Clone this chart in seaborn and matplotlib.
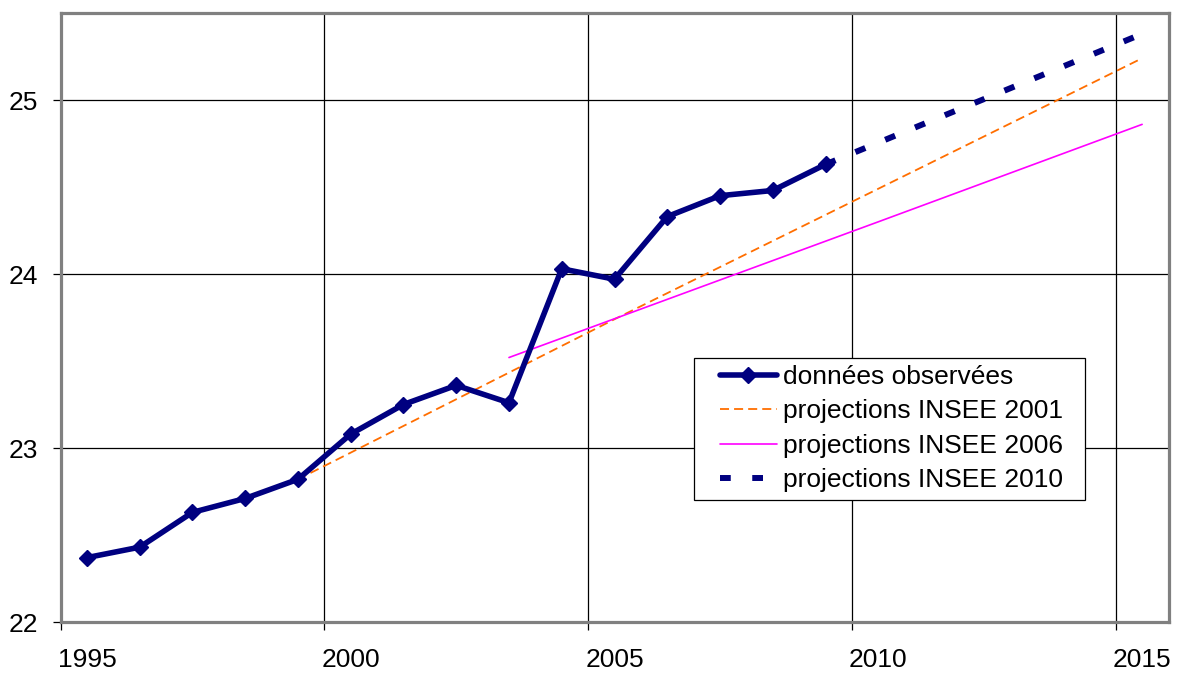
import numpy as np
import pandas as pd
import seaborn as sns
import matplotlib
matplotlib.use("Agg")
import matplotlib.pyplot as plt
from matplotlib.patches import Rectangle

# Observed values
obs_years = [1995, 1996, 1997, 1998, 1999, 2000, 2001, 2002, 2003,
             2004, 2005, 2006, 2007, 2008, 2009]
obs_values = [22.37, 22.43, 22.63, 22.71, 22.82, 23.08, 23.25, 23.36, 23.26,
              24.03, 23.97, 24.33, 24.45, 24.48, 24.63]

# INSEE projections
proj2001_years = [1999, 2005, 2010, 2015]
proj2001_values = [22.82, 23.74, 24.49, 25.24]

proj2006_years = [2003, 2010, 2015]
proj2006_values = [23.52, 24.30, 24.86]

proj2010_years = [2009, 2015]
proj2010_values = [24.63, 25.38]

labels = ["données observées", "projections INSEE 2001",
          "projections INSEE 2006", "projections INSEE 2010"]
year_labels = [1995, 2000, 2005, 2010, 2015]
y_ticks = [22, 23, 24, 25]

NAVY = "#000080"
ORANGE = "#FF6E00"
MAGENTA = "#FF00FF"

sns.set_theme(style="white")
plt.rcParams["font.family"] = ["Liberation Sans", "DejaVu Sans"]

fig = plt.figure(figsize=(11.78, 6.73), dpi=100)
ax = fig.add_axes([0.05136, 0.07578, 0.94058, 0.9049])

sns.lineplot(x=proj2001_years, y=proj2001_values, ax=ax, color=ORANGE,
             linewidth=1.3, linestyle=(0, (5.0, 2.8)), label=labels[1], zorder=3)
sns.lineplot(x=proj2006_years, y=proj2006_values, ax=ax, color=MAGENTA,
             linewidth=1.2, label=labels[2], zorder=3)
sns.lineplot(x=proj2010_years, y=proj2010_values, ax=ax, color=NAVY,
             linewidth=4.3, linestyle=(0, (1.8, 3.6)), label=labels[3], zorder=3)
sns.lineplot(x=obs_years, y=obs_values, ax=ax, color=NAVY, linewidth=4.0,
             marker="D", markersize=7.8, markeredgecolor=NAVY,
             markeredgewidth=1.0, label=labels[0], zorder=4)

ax.set_xlim(1994.5, 2015.5)
ax.set_ylim(22, 25.5)

# Gridlines sit on the category boundaries, labels on the years
ax.set_xticks([y - 0.5 for y in year_labels])
ax.set_xticklabels([""] * len(year_labels))
ax.set_xticks(year_labels, minor=True)
ax.set_xticklabels([str(y) for y in year_labels], minor=True)
ax.set_yticks(y_ticks)
ax.set_yticklabels([str(v) for v in y_ticks])

ax.tick_params(axis="x", which="major", direction="out", length=6, width=0.9,
               color="black", bottom=True)
ax.tick_params(axis="x", which="minor", length=0, pad=19, labelsize=19,
               labelcolor="black", bottom=True)
ax.tick_params(axis="y", which="major", direction="out", length=6, width=0.9,
               color="black", left=True, pad=10, labelsize=19, labelcolor="black")

ax.grid(True, which="major", color="black", linewidth=0.9)
ax.set_axisbelow(True)
for side in ["left", "right", "top", "bottom"]:
    ax.spines[side].set_visible(True)
    ax.spines[side].set_color("#808080")
    ax.spines[side].set_linewidth(2.3)
ax.set_xlabel("")
ax.set_ylabel("")

# Legend
handles, hlabels = ax.get_legend_handles_labels()
order = [hlabels.index(l) for l in labels]
ax.add_patch(Rectangle((0.5717, 0.2003), 0.3529, 0.2332, transform=ax.transAxes,
                       facecolor="white", edgecolor="black", linewidth=0.9,
                       zorder=6))
leg = ax.legend([handles[i] for i in order], [hlabels[i] for i in order],
                loc="upper left", bbox_to_anchor=(0.5952, 0.4223),
                borderaxespad=0, borderpad=0, frameon=False, fontsize=19,
                handlelength=2.16, handletextpad=0.23, labelspacing=0.4,
                numpoints=1)
leg.set_zorder(7)
for t in leg.get_texts():
    t.set_color("black")

fig.savefig("out.png", dpi=100)
